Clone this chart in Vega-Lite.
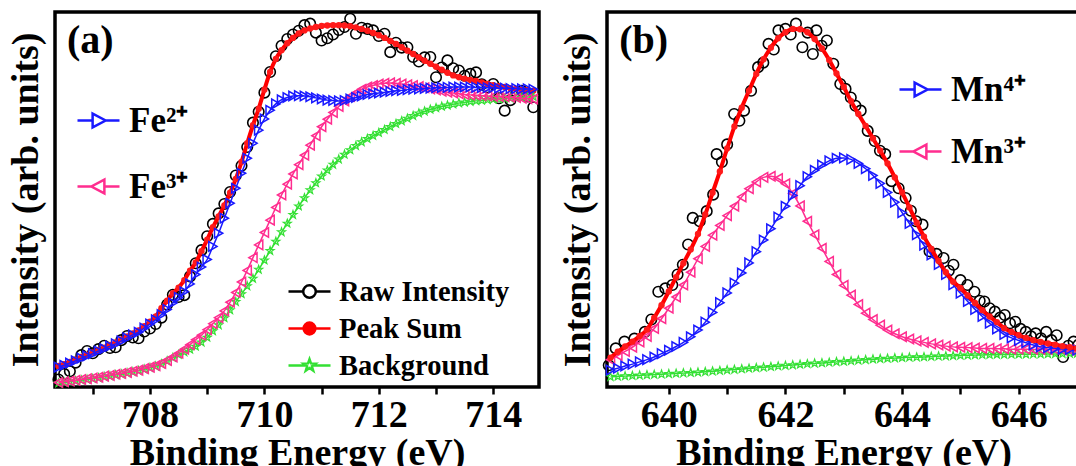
{
"$schema":"https://vega.github.io/schema/vega-lite/v6.json",
"padding":{"left":5,"top":8,"right":0,"bottom":0},
"spacing":13,
"resolve":{"scale":{"shape":"independent","stroke":"independent"},"legend":{"shape":"independent","stroke":"independent"}},
"config":{
 "view":{"stroke":"black","strokeWidth":3.5},
 "font":"Liberation Serif",
 "axis":{"domain":false,"grid":false,"tickColor":"black","tickWidth":2.5,"tickSize":7,"labelFont":"Liberation Serif","labelFontWeight":"bold","labelFontSize":38,"labelColor":"black","labelPadding":2,"titleFont":"Liberation Serif","titleFontWeight":"bold","titleFontSize":38,"titleColor":"black","titlePadding":0},
 "axisY":{"ticks":false,"labels":false,"titleFontSize":38,"titlePadding":10}
},
"datasets":{
"a_raw":[{"E":706.4,"I":2.0},{"E":706.5,"I":3.5},{"E":706.6,"I":4.2},{"E":706.7,"I":6.5},{"E":706.8,"I":8.5},{"E":706.9,"I":9.6},{"E":707.0,"I":9.0},{"E":707.1,"I":10.1},{"E":707.2,"I":11.0},{"E":707.3,"I":10.4},{"E":707.4,"I":10.6},{"E":707.5,"I":12.5},{"E":707.6,"I":13.6},{"E":707.7,"I":13.2},{"E":707.8,"I":13.0},{"E":707.9,"I":14.8},{"E":708.0,"I":15.6},{"E":708.1,"I":16.8},{"E":708.2,"I":18.5},{"E":708.3,"I":22.0},{"E":708.4,"I":24.6},{"E":708.5,"I":24.0},{"E":708.6,"I":24.5},{"E":708.7,"I":29.5},{"E":708.8,"I":33.0},{"E":708.9,"I":36.5},{"E":709.0,"I":40.2},{"E":709.1,"I":43.5},{"E":709.2,"I":46.3},{"E":709.3,"I":48.8},{"E":709.4,"I":52.0},{"E":709.5,"I":56.4},{"E":709.6,"I":59.0},{"E":709.7,"I":64.0},{"E":709.8,"I":70.5},{"E":709.9,"I":73.4},{"E":710.0,"I":78.5},{"E":710.1,"I":84.0},{"E":710.2,"I":88.2},{"E":710.3,"I":91.0},{"E":710.4,"I":92.8},{"E":710.5,"I":94.0},{"E":710.6,"I":95.0},{"E":710.7,"I":96.5},{"E":710.8,"I":96.9},{"E":710.9,"I":94.5},{"E":711.0,"I":92.4},{"E":711.1,"I":93.0},{"E":711.2,"I":94.0},{"E":711.3,"I":95.2},{"E":711.4,"I":96.0},{"E":711.5,"I":98.2},{"E":711.6,"I":94.2},{"E":711.7,"I":95.8},{"E":711.8,"I":95.5},{"E":711.9,"I":95.1},{"E":712.0,"I":93.6},{"E":712.1,"I":94.2},{"E":712.2,"I":89.3},{"E":712.3,"I":91.8},{"E":712.4,"I":90.5},{"E":712.5,"I":90.6},{"E":712.6,"I":88.0},{"E":712.7,"I":86.8},{"E":712.8,"I":87.9},{"E":712.9,"I":88.0},{"E":713.0,"I":82.6},{"E":713.1,"I":85.2},{"E":713.2,"I":87.1},{"E":713.3,"I":85.0},{"E":713.4,"I":84.4},{"E":713.5,"I":83.0},{"E":713.6,"I":83.5},{"E":713.7,"I":83.9},{"E":713.8,"I":80.7},{"E":713.9,"I":79.9},{"E":714.0,"I":80.8},{"E":714.1,"I":77.0},{"E":714.2,"I":73.7},{"E":714.3,"I":76.5},{"E":714.4,"I":78.1},{"E":714.5,"I":79.0},{"E":714.6,"I":77.5},{"E":714.7,"I":74.6}],
"a_sum":[{"E":706.4,"I":5.6},{"E":706.5,"I":6.1},{"E":706.6,"I":6.7},{"E":706.7,"I":7.3},{"E":706.8,"I":8.0},{"E":706.9,"I":8.6},{"E":707.0,"I":9.2},{"E":707.1,"I":9.9},{"E":707.2,"I":10.5},{"E":707.3,"I":11.2},{"E":707.4,"I":11.9},{"E":707.5,"I":12.7},{"E":707.6,"I":13.5},{"E":707.7,"I":14.3},{"E":707.8,"I":15.1},{"E":707.9,"I":16.2},{"E":708.0,"I":17.4},{"E":708.1,"I":18.8},{"E":708.2,"I":21.0},{"E":708.3,"I":23.0},{"E":708.4,"I":25.0},{"E":708.5,"I":26.5},{"E":708.6,"I":28.5},{"E":708.7,"I":31.0},{"E":708.8,"I":33.2},{"E":708.9,"I":36.2},{"E":709.0,"I":39.3},{"E":709.1,"I":42.6},{"E":709.2,"I":45.5},{"E":709.3,"I":48.4},{"E":709.4,"I":51.8},{"E":709.5,"I":55.5},{"E":709.6,"I":60.0},{"E":709.7,"I":65.0},{"E":709.8,"I":69.8},{"E":709.9,"I":74.2},{"E":710.0,"I":79.3},{"E":710.1,"I":84.0},{"E":710.2,"I":87.5},{"E":710.3,"I":89.8},{"E":710.4,"I":91.7},{"E":710.5,"I":93.1},{"E":710.6,"I":94.3},{"E":710.7,"I":95.1},{"E":710.8,"I":95.6},{"E":710.9,"I":96.0},{"E":711.0,"I":96.3},{"E":711.1,"I":96.4},{"E":711.2,"I":96.5},{"E":711.3,"I":96.5},{"E":711.4,"I":96.4},{"E":711.5,"I":96.2},{"E":711.6,"I":95.9},{"E":711.7,"I":95.5},{"E":711.8,"I":95.0},{"E":711.9,"I":94.4},{"E":712.0,"I":93.8},{"E":712.1,"I":93.1},{"E":712.2,"I":92.3},{"E":712.3,"I":91.5},{"E":712.4,"I":90.6},{"E":712.5,"I":89.7},{"E":712.6,"I":88.8},{"E":712.7,"I":87.9},{"E":712.8,"I":87.0},{"E":712.9,"I":86.2},{"E":713.0,"I":85.4},{"E":713.1,"I":84.6},{"E":713.2,"I":83.8},{"E":713.3,"I":83.1},{"E":713.4,"I":82.6},{"E":713.5,"I":82.2},{"E":713.6,"I":81.9},{"E":713.7,"I":81.6},{"E":713.8,"I":81.2},{"E":713.9,"I":80.8},{"E":714.0,"I":80.5},{"E":714.1,"I":80.2},{"E":714.2,"I":80.0},{"E":714.3,"I":79.7},{"E":714.4,"I":79.5},{"E":714.5,"I":79.3},{"E":714.6,"I":79.2},{"E":714.7,"I":79.0}],
"a_bg":[{"E":706.4,"I":1.0},{"E":706.5,"I":1.2},{"E":706.6,"I":1.4},{"E":706.7,"I":1.6},{"E":706.8,"I":1.8},{"E":706.9,"I":2.0},{"E":707.0,"I":2.2},{"E":707.1,"I":2.4},{"E":707.2,"I":2.7},{"E":707.3,"I":2.9},{"E":707.4,"I":3.2},{"E":707.5,"I":3.4},{"E":707.6,"I":3.7},{"E":707.7,"I":4.0},{"E":707.8,"I":4.3},{"E":707.9,"I":4.7},{"E":708.0,"I":5.1},{"E":708.1,"I":5.5},{"E":708.2,"I":6.1},{"E":708.3,"I":6.9},{"E":708.4,"I":7.8},{"E":708.5,"I":8.6},{"E":708.6,"I":9.3},{"E":708.7,"I":10.0},{"E":708.8,"I":10.8},{"E":708.9,"I":11.9},{"E":709.0,"I":13.2},{"E":709.1,"I":14.9},{"E":709.2,"I":16.5},{"E":709.3,"I":18.4},{"E":709.4,"I":20.5},{"E":709.5,"I":22.7},{"E":709.6,"I":24.8},{"E":709.7,"I":26.9},{"E":709.8,"I":28.9},{"E":709.9,"I":31.3},{"E":710.0,"I":33.8},{"E":710.1,"I":36.3},{"E":710.2,"I":38.8},{"E":710.3,"I":41.3},{"E":710.4,"I":43.6},{"E":710.5,"I":45.9},{"E":710.6,"I":48.2},{"E":710.7,"I":50.4},{"E":710.8,"I":52.5},{"E":710.9,"I":54.4},{"E":711.0,"I":56.2},{"E":711.1,"I":57.8},{"E":711.2,"I":59.3},{"E":711.3,"I":60.7},{"E":711.4,"I":62.0},{"E":711.5,"I":63.2},{"E":711.6,"I":64.3},{"E":711.7,"I":65.3},{"E":711.8,"I":66.2},{"E":711.9,"I":67.0},{"E":712.0,"I":67.8},{"E":712.1,"I":68.6},{"E":712.2,"I":69.4},{"E":712.3,"I":70.2},{"E":712.4,"I":70.9},{"E":712.5,"I":71.6},{"E":712.6,"I":72.3},{"E":712.7,"I":73.0},{"E":712.8,"I":73.5},{"E":712.9,"I":74.0},{"E":713.0,"I":74.4},{"E":713.1,"I":74.8},{"E":713.2,"I":75.1},{"E":713.3,"I":75.4},{"E":713.4,"I":75.7},{"E":713.5,"I":75.9},{"E":713.6,"I":76.1},{"E":713.7,"I":76.3},{"E":713.8,"I":76.4},{"E":713.9,"I":76.55},{"E":714.0,"I":76.7},{"E":714.1,"I":76.8},{"E":714.2,"I":76.9},{"E":714.3,"I":77.0},{"E":714.4,"I":77.1},{"E":714.5,"I":77.2},{"E":714.6,"I":77.3},{"E":714.7,"I":77.4}],
"a_fe3":[{"E":706.4,"I":1.2},{"E":706.5,"I":1.4},{"E":706.6,"I":1.6},{"E":706.7,"I":1.8},{"E":706.8,"I":2.0},{"E":706.9,"I":2.2},{"E":707.0,"I":2.4},{"E":707.1,"I":2.6},{"E":707.2,"I":2.9},{"E":707.3,"I":3.1},{"E":707.4,"I":3.4},{"E":707.5,"I":3.6},{"E":707.6,"I":3.9},{"E":707.7,"I":4.2},{"E":707.8,"I":4.5},{"E":707.9,"I":4.9},{"E":708.0,"I":5.3},{"E":708.1,"I":5.7},{"E":708.2,"I":6.3},{"E":708.3,"I":7.1},{"E":708.4,"I":8.0},{"E":708.5,"I":9.0},{"E":708.6,"I":10.1},{"E":708.7,"I":11.3},{"E":708.8,"I":12.6},{"E":708.9,"I":13.8},{"E":709.0,"I":15.3},{"E":709.1,"I":16.9},{"E":709.2,"I":18.5},{"E":709.3,"I":20.3},{"E":709.4,"I":22.6},{"E":709.5,"I":25.2},{"E":709.6,"I":28.0},{"E":709.7,"I":31.1},{"E":709.8,"I":34.5},{"E":709.9,"I":37.9},{"E":710.0,"I":41.2},{"E":710.1,"I":44.5},{"E":710.2,"I":47.9},{"E":710.3,"I":51.2},{"E":710.4,"I":54.1},{"E":710.5,"I":56.8},{"E":710.6,"I":59.3},{"E":710.7,"I":61.8},{"E":710.8,"I":64.5},{"E":710.9,"I":67.0},{"E":711.0,"I":69.4},{"E":711.1,"I":71.4},{"E":711.2,"I":73.2},{"E":711.3,"I":74.8},{"E":711.4,"I":76.3},{"E":711.5,"I":77.5},{"E":711.6,"I":78.4},{"E":711.7,"I":79.4},{"E":711.8,"I":80.0},{"E":711.9,"I":80.4},{"E":712.0,"I":80.8},{"E":712.1,"I":81.0},{"E":712.2,"I":81.1},{"E":712.3,"I":81.0},{"E":712.4,"I":80.8},{"E":712.5,"I":80.6},{"E":712.6,"I":80.4},{"E":712.7,"I":80.1},{"E":712.8,"I":79.8},{"E":712.9,"I":79.5},{"E":713.0,"I":79.2},{"E":713.1,"I":78.9},{"E":713.2,"I":78.6},{"E":713.3,"I":78.4},{"E":713.4,"I":78.2},{"E":713.5,"I":78.0},{"E":713.6,"I":77.9},{"E":713.7,"I":77.8},{"E":713.8,"I":77.7},{"E":713.9,"I":77.6},{"E":714.0,"I":77.5},{"E":714.1,"I":77.45},{"E":714.2,"I":77.4},{"E":714.3,"I":77.3},{"E":714.4,"I":77.2},{"E":714.5,"I":77.0},{"E":714.6,"I":76.9},{"E":714.7,"I":76.8}],
"a_fe2":[{"E":706.4,"I":5.3},{"E":706.5,"I":5.8},{"E":706.6,"I":6.4},{"E":706.7,"I":7.0},{"E":706.8,"I":7.7},{"E":706.9,"I":8.3},{"E":707.0,"I":8.9},{"E":707.1,"I":9.6},{"E":707.2,"I":10.2},{"E":707.3,"I":10.9},{"E":707.4,"I":11.5},{"E":707.5,"I":12.3},{"E":707.6,"I":13.1},{"E":707.7,"I":13.9},{"E":707.8,"I":14.6},{"E":707.9,"I":15.7},{"E":708.0,"I":16.8},{"E":708.1,"I":17.9},{"E":708.2,"I":19.3},{"E":708.3,"I":20.7},{"E":708.4,"I":22.4},{"E":708.5,"I":23.9},{"E":708.6,"I":25.4},{"E":708.7,"I":27.5},{"E":708.8,"I":30.0},{"E":708.9,"I":32.0},{"E":709.0,"I":34.0},{"E":709.1,"I":37.5},{"E":709.2,"I":41.0},{"E":709.3,"I":45.0},{"E":709.4,"I":49.0},{"E":709.5,"I":53.0},{"E":709.6,"I":57.0},{"E":709.7,"I":61.0},{"E":709.8,"I":65.0},{"E":709.9,"I":68.5},{"E":710.0,"I":71.5},{"E":710.1,"I":73.8},{"E":710.2,"I":75.5},{"E":710.3,"I":76.6},{"E":710.4,"I":77.2},{"E":710.5,"I":77.6},{"E":710.6,"I":77.7},{"E":710.7,"I":77.6},{"E":710.8,"I":77.4},{"E":710.9,"I":77.1},{"E":711.0,"I":76.8},{"E":711.1,"I":76.5},{"E":711.2,"I":76.4},{"E":711.3,"I":76.3},{"E":711.4,"I":76.4},{"E":711.5,"I":76.8},{"E":711.6,"I":77.2},{"E":711.7,"I":77.6},{"E":711.8,"I":78.0},{"E":711.9,"I":78.2},{"E":712.0,"I":78.4},{"E":712.1,"I":78.6},{"E":712.2,"I":78.8},{"E":712.3,"I":79.0},{"E":712.4,"I":79.1},{"E":712.5,"I":79.3},{"E":712.6,"I":79.4},{"E":712.7,"I":79.5},{"E":712.8,"I":79.6},{"E":712.9,"I":79.7},{"E":713.0,"I":79.8},{"E":713.1,"I":79.9},{"E":713.2,"I":79.9},{"E":713.3,"I":80.0},{"E":713.4,"I":80.0},{"E":713.5,"I":80.0},{"E":713.6,"I":80.0},{"E":713.7,"I":79.9},{"E":713.8,"I":79.9},{"E":713.9,"I":79.8},{"E":714.0,"I":79.8},{"E":714.1,"I":79.7},{"E":714.2,"I":79.7},{"E":714.3,"I":79.6},{"E":714.4,"I":79.6},{"E":714.5,"I":79.5},{"E":714.6,"I":79.5},{"E":714.7,"I":79.4}],
"b_raw":[{"E":638.97,"I":5.8},{"E":639.09,"I":10.3},{"E":639.24,"I":12.1},{"E":639.41,"I":12.9},{"E":639.59,"I":14.7},{"E":639.7,"I":18.0},{"E":639.82,"I":25.4},{"E":639.94,"I":26.3},{"E":640.06,"I":27.2},{"E":640.15,"I":30.0},{"E":640.24,"I":32.6},{"E":640.33,"I":38.0},{"E":640.41,"I":45.1},{"E":640.53,"I":44.2},{"E":640.65,"I":46.9},{"E":640.76,"I":51.3},{"E":640.82,"I":62.1},{"E":640.91,"I":60.0},{"E":641.0,"I":64.7},{"E":641.12,"I":72.8},{"E":641.21,"I":71.0},{"E":641.29,"I":73.7},{"E":641.41,"I":79.0},{"E":641.53,"I":85.3},{"E":641.62,"I":86.5},{"E":641.71,"I":91.5},{"E":641.8,"I":90.0},{"E":641.88,"I":95.1},{"E":642.0,"I":95.5},{"E":642.09,"I":94.0},{"E":642.18,"I":96.9},{"E":642.29,"I":90.6},{"E":642.38,"I":94.5},{"E":642.47,"I":88.8},{"E":642.53,"I":95.1},{"E":642.62,"I":91.0},{"E":642.71,"I":92.4},{"E":642.82,"I":86.2},{"E":642.94,"I":80.8},{"E":643.03,"I":79.5},{"E":643.12,"I":77.2},{"E":643.2,"I":75.0},{"E":643.29,"I":73.7},{"E":643.41,"I":68.3},{"E":643.53,"I":65.6},{"E":643.62,"I":63.0},{"E":643.71,"I":62.1},{"E":643.82,"I":54.9},{"E":643.94,"I":53.0},{"E":644.06,"I":50.4},{"E":644.15,"I":47.0},{"E":644.24,"I":44.2},{"E":644.35,"I":43.3},{"E":644.47,"I":36.2},{"E":644.59,"I":35.5},{"E":644.71,"I":34.4},{"E":644.8,"I":31.0},{"E":644.88,"I":32.6},{"E":645.0,"I":28.5},{"E":645.12,"I":27.2},{"E":645.24,"I":25.4},{"E":645.33,"I":23.0},{"E":645.41,"I":22.8},{"E":645.5,"I":21.0},{"E":645.59,"I":20.1},{"E":645.68,"I":18.5},{"E":645.76,"I":19.2},{"E":645.85,"I":17.0},{"E":645.94,"I":17.4},{"E":646.03,"I":15.5},{"E":646.12,"I":14.7},{"E":646.21,"I":13.5},{"E":646.29,"I":14.3},{"E":646.38,"I":13.0},{"E":646.47,"I":14.7},{"E":646.56,"I":12.5},{"E":646.65,"I":13.8},{"E":646.76,"I":8.0},{"E":646.85,"I":11.0},{"E":646.94,"I":12.1},{"E":647.02,"I":11.2}],
"b_sum":[{"E":639.0,"I":7.8},{"E":639.125,"I":9.4},{"E":639.25,"I":10.8},{"E":639.375,"I":12.1},{"E":639.5,"I":13.6},{"E":639.625,"I":15.3},{"E":639.75,"I":18.5},{"E":639.875,"I":21.8},{"E":640.0,"I":25.5},{"E":640.125,"I":29.3},{"E":640.25,"I":33.0},{"E":640.375,"I":36.7},{"E":640.5,"I":40.8},{"E":640.625,"I":46.0},{"E":640.75,"I":51.8},{"E":640.875,"I":57.5},{"E":641.0,"I":63.6},{"E":641.125,"I":69.5},{"E":641.25,"I":74.5},{"E":641.375,"I":79.0},{"E":641.5,"I":83.5},{"E":641.625,"I":87.4},{"E":641.75,"I":90.5},{"E":641.875,"I":93.0},{"E":642.0,"I":94.6},{"E":642.125,"I":95.5},{"E":642.25,"I":95.4},{"E":642.375,"I":94.6},{"E":642.5,"I":92.8},{"E":642.625,"I":90.3},{"E":642.75,"I":87.2},{"E":642.875,"I":83.6},{"E":643.0,"I":80.0},{"E":643.125,"I":76.2},{"E":643.25,"I":72.8},{"E":643.375,"I":69.6},{"E":643.5,"I":66.3},{"E":643.625,"I":63.0},{"E":643.75,"I":59.6},{"E":643.875,"I":55.9},{"E":644.0,"I":51.9},{"E":644.125,"I":47.9},{"E":644.25,"I":43.8},{"E":644.375,"I":40.1},{"E":644.5,"I":36.8},{"E":644.625,"I":33.6},{"E":644.75,"I":30.6},{"E":644.875,"I":28.1},{"E":645.0,"I":26.4},{"E":645.125,"I":24.4},{"E":645.25,"I":22.4},{"E":645.375,"I":20.5},{"E":645.5,"I":18.8},{"E":645.625,"I":17.3},{"E":645.75,"I":15.7},{"E":645.875,"I":14.7},{"E":646.0,"I":13.8},{"E":646.125,"I":13.1},{"E":646.25,"I":12.5},{"E":646.375,"I":12.0},{"E":646.5,"I":11.6},{"E":646.625,"I":11.3},{"E":646.75,"I":10.9},{"E":646.875,"I":10.6},{"E":647.0,"I":10.3}],
"b_bg":[{"E":639.0,"I":2.7},{"E":639.125,"I":2.8},{"E":639.25,"I":2.9},{"E":639.375,"I":3.0},{"E":639.5,"I":3.1},{"E":639.625,"I":3.2},{"E":639.75,"I":3.3},{"E":639.875,"I":3.4},{"E":640.0,"I":3.5},{"E":640.125,"I":3.6},{"E":640.25,"I":3.7},{"E":640.375,"I":3.8},{"E":640.5,"I":3.9},{"E":640.625,"I":4.05},{"E":640.75,"I":4.2},{"E":640.875,"I":4.35},{"E":641.0,"I":4.5},{"E":641.125,"I":4.65},{"E":641.25,"I":4.8},{"E":641.375,"I":4.95},{"E":641.5,"I":5.1},{"E":641.625,"I":5.25},{"E":641.75,"I":5.4},{"E":641.875,"I":5.55},{"E":642.0,"I":5.7},{"E":642.125,"I":5.85},{"E":642.25,"I":6.0},{"E":642.375,"I":6.15},{"E":642.5,"I":6.3},{"E":642.625,"I":6.4},{"E":642.75,"I":6.55},{"E":642.875,"I":6.7},{"E":643.0,"I":6.8},{"E":643.125,"I":6.95},{"E":643.25,"I":7.1},{"E":643.375,"I":7.25},{"E":643.5,"I":7.4},{"E":643.625,"I":7.5},{"E":643.75,"I":7.6},{"E":643.875,"I":7.7},{"E":644.0,"I":7.8},{"E":644.125,"I":7.9},{"E":644.25,"I":7.95},{"E":644.375,"I":8.0},{"E":644.5,"I":8.1},{"E":644.625,"I":8.2},{"E":644.75,"I":8.25},{"E":644.875,"I":8.3},{"E":645.0,"I":8.4},{"E":645.125,"I":8.45},{"E":645.25,"I":8.5},{"E":645.375,"I":8.55},{"E":645.5,"I":8.6},{"E":645.625,"I":8.62},{"E":645.75,"I":8.65},{"E":645.875,"I":8.68},{"E":646.0,"I":8.7},{"E":646.125,"I":8.72},{"E":646.25,"I":8.75},{"E":646.375,"I":8.78},{"E":646.5,"I":8.8},{"E":646.625,"I":8.83},{"E":646.75,"I":8.85},{"E":646.875,"I":8.88},{"E":647.0,"I":8.9}],
"b_mn3":[{"E":639.0,"I":7.3},{"E":639.125,"I":8.4},{"E":639.25,"I":9.5},{"E":639.375,"I":10.6},{"E":639.5,"I":12.0},{"E":639.625,"I":13.5},{"E":639.75,"I":15.6},{"E":639.875,"I":18.2},{"E":640.0,"I":21.0},{"E":640.125,"I":24.0},{"E":640.25,"I":27.2},{"E":640.375,"I":30.6},{"E":640.5,"I":34.2},{"E":640.625,"I":37.5},{"E":640.75,"I":40.5},{"E":640.875,"I":43.1},{"E":641.0,"I":45.7},{"E":641.125,"I":48.2},{"E":641.25,"I":50.7},{"E":641.375,"I":52.9},{"E":641.5,"I":54.7},{"E":641.625,"I":55.9},{"E":641.75,"I":56.2},{"E":641.875,"I":55.6},{"E":642.0,"I":54.2},{"E":642.125,"I":51.6},{"E":642.25,"I":48.3},{"E":642.375,"I":44.2},{"E":642.5,"I":40.6},{"E":642.625,"I":37.0},{"E":642.75,"I":33.5},{"E":642.875,"I":30.0},{"E":643.0,"I":27.1},{"E":643.125,"I":24.5},{"E":643.25,"I":22.0},{"E":643.375,"I":19.7},{"E":643.5,"I":18.0},{"E":643.625,"I":16.5},{"E":643.75,"I":15.2},{"E":643.875,"I":14.2},{"E":644.0,"I":13.4},{"E":644.125,"I":12.8},{"E":644.25,"I":12.3},{"E":644.375,"I":11.9},{"E":644.5,"I":11.5},{"E":644.625,"I":11.2},{"E":644.75,"I":10.9},{"E":644.875,"I":10.7},{"E":645.0,"I":10.6},{"E":645.125,"I":10.5},{"E":645.25,"I":10.4},{"E":645.375,"I":10.3},{"E":645.5,"I":10.3},{"E":645.625,"I":10.2},{"E":645.75,"I":10.2},{"E":645.875,"I":10.1},{"E":646.0,"I":10.1},{"E":646.125,"I":10.1},{"E":646.25,"I":10.0},{"E":646.375,"I":10.0},{"E":646.5,"I":10.0},{"E":646.625,"I":10.0},{"E":646.75,"I":9.9},{"E":646.875,"I":9.9},{"E":647.0,"I":9.8}],
"b_mn4":[{"E":639.0,"I":4.5},{"E":639.125,"I":5.0},{"E":639.25,"I":5.6},{"E":639.375,"I":6.1},{"E":639.5,"I":6.7},{"E":639.625,"I":7.3},{"E":639.75,"I":8.0},{"E":639.875,"I":8.9},{"E":640.0,"I":9.8},{"E":640.125,"I":10.8},{"E":640.25,"I":11.9},{"E":640.375,"I":13.4},{"E":640.5,"I":15.2},{"E":640.625,"I":17.3},{"E":640.75,"I":19.9},{"E":640.875,"I":22.5},{"E":641.0,"I":25.1},{"E":641.125,"I":27.7},{"E":641.25,"I":30.4},{"E":641.375,"I":33.1},{"E":641.5,"I":36.1},{"E":641.625,"I":39.2},{"E":641.75,"I":42.2},{"E":641.875,"I":45.3},{"E":642.0,"I":48.2},{"E":642.125,"I":51.1},{"E":642.25,"I":53.7},{"E":642.375,"I":56.1},{"E":642.5,"I":57.8},{"E":642.625,"I":59.2},{"E":642.75,"I":60.3},{"E":642.875,"I":61.0},{"E":643.0,"I":61.1},{"E":643.125,"I":60.7},{"E":643.25,"I":59.6},{"E":643.375,"I":58.2},{"E":643.5,"I":56.4},{"E":643.625,"I":54.3},{"E":643.75,"I":51.9},{"E":643.875,"I":49.3},{"E":644.0,"I":46.5},{"E":644.125,"I":43.6},{"E":644.25,"I":40.6},{"E":644.375,"I":37.8},{"E":644.5,"I":35.2},{"E":644.625,"I":32.7},{"E":644.75,"I":30.0},{"E":644.875,"I":27.3},{"E":645.0,"I":25.0},{"E":645.125,"I":22.8},{"E":645.25,"I":20.7},{"E":645.375,"I":18.8},{"E":645.5,"I":17.0},{"E":645.625,"I":15.5},{"E":645.75,"I":14.0},{"E":645.875,"I":13.1},{"E":646.0,"I":12.4},{"E":646.125,"I":11.8},{"E":646.25,"I":11.2},{"E":646.375,"I":10.7},{"E":646.5,"I":10.5},{"E":646.625,"I":10.3},{"E":646.75,"I":10.1},{"E":646.875,"I":10.0},{"E":647.0,"I":9.8}],
"lab_a":[{"t":"(a)"}],
"lab_b":[{"t":"(b)"}],
"leg_fe":[{"s":"Fe²⁺"},{"s":"Fe³⁺"}],
"leg_mn":[{"s":"Mn⁴⁺"},{"s":"Mn³⁺"}],
"leg_fit":[{"s":"Raw Intensity"},{"s":"Peak Sum"},{"s":"Background"}]
},
"hconcat":[
{
 "width":484,"height":375,
 "layer":[
  {
   "encoding":{
    "x":{"field":"E","type":"quantitative","scale":{"domain":[706.34,714.8],"nice":false,"zero":false},"axis":{"values":[707,708,709,710,711,712,713,714],"labelExpr":"datum.value % 2 == 0 ? datum.label : ''","title":"Binding Energy (eV)"}},
    "y":{"field":"I","type":"quantitative","scale":{"domain":[0,100],"nice":false},"axis":{"title":"Intensity (arb. units)"}}
   },
   "layer":[
    {"data":{"name":"a_raw"},"mark":{"type":"point","shape":"circle","filled":false,"stroke":"black","strokeWidth":1.6,"size":110,"opacity":1}},
    {"data":{"name":"a_sum"},"mark":{"type":"line","color":"#ff0000","strokeWidth":4,"interpolate":"monotone"}},
    {"data":{"name":"a_sum"},"mark":{"type":"point","shape":"circle","filled":true,"color":"#ff1a1a","size":40,"opacity":1}},
    {"data":{"name":"a_bg"},"mark":{"type":"line","color":"#33e033","strokeWidth":1.5,"interpolate":"monotone"}},
    {"data":{"name":"a_bg"},"mark":{"type":"point","shape":"M0,-1L0.235,-0.324L0.951,-0.309L0.38,0.124L0.588,0.809L0,0.4L-0.588,0.809L-0.38,0.124L-0.951,-0.309L-0.235,-0.324Z","filled":false,"stroke":"#33e033","strokeWidth":1.2,"size":70,"opacity":1}},
    {"data":{"name":"a_fe3"},"mark":{"type":"line","color":"#ff2d8f","strokeWidth":1.5,"interpolate":"monotone"}},
    {"data":{"name":"a_fe3"},"mark":{"type":"point","shape":"triangle-left","filled":false,"stroke":"#ff2d8f","strokeWidth":1.5,"size":90,"opacity":1}},
    {"data":{"name":"a_fe2"},"mark":{"type":"line","color":"#1a1aff","strokeWidth":1.5,"interpolate":"monotone"}},
    {"data":{"name":"a_fe2"},"mark":{"type":"point","shape":"triangle-right","filled":false,"stroke":"#1a1aff","strokeWidth":1.5,"size":90,"opacity":1}}
   ]
  },
  {"data":{"name":"lab_a"},"mark":{"type":"text","align":"left","baseline":"alphabetic","font":"Liberation Serif","fontWeight":"bold","fontSize":40,"color":"black"},"encoding":{
   "x":{"datum":706.55,"type":"quantitative","scale":{"domain":[706.34,714.8],"nice":false,"zero":false},"axis":{"values":[707,708,709,710,711,712,713,714],"labelExpr":"datum.value % 2 == 0 ? datum.label : ''","title":"Binding Energy (eV)"}},
   "y":{"datum":89,"type":"quantitative","scale":{"domain":[0,100],"nice":false},"axis":{"title":"Intensity (arb. units)"}},
   "text":{"field":"t"}}},
  {"data":{"name":"leg_fe"},"mark":{"type":"point","opacity":0},"encoding":{
   "x":{"datum":710,"type":"quantitative","scale":{"domain":[706.34,714.8],"nice":false,"zero":false},"axis":{"values":[707,708,709,710,711,712,713,714],"labelExpr":"datum.value % 2 == 0 ? datum.label : ''","title":"Binding Energy (eV)"}},
   "y":{"datum":50,"type":"quantitative","scale":{"domain":[0,100],"nice":false},"axis":{"title":"Intensity (arb. units)"}},
   "shape":{"field":"s","type":"nominal","scale":{"domain":["Fe²⁺","Fe³⁺"],"range":["M-1,0H-0.28M0.34,0H1M-0.28,-0.33L0.34,0L-0.28,0.33Z","M-1,0H-0.34M0.28,0H1M0.28,-0.33L-0.34,0L0.28,0.33Z"]},"legend":{"orient":"none","legendX":21,"legendY":86,"title":null,"labelFont":"Liberation Serif","labelFontWeight":"bold","labelFontSize":35,"labelColor":"black","symbolSize":1764,"symbolStrokeWidth":2.5,"symbolOpacity":1,"rowPadding":25,"labelOffset":8,"labelLimit":0,"padding":0}},
   "stroke":{"field":"s","type":"nominal","scale":{"domain":["Fe²⁺","Fe³⁺"],"range":["#1a1aff","#ff2d8f"]},"legend":{"orient":"none","legendX":21,"legendY":86,"title":null,"labelFont":"Liberation Serif","labelFontWeight":"bold","labelFontSize":35,"labelColor":"black","symbolSize":1764,"symbolStrokeWidth":2.5,"symbolOpacity":1,"rowPadding":25,"labelOffset":8,"labelLimit":0,"padding":0}}}},
  {"data":{"name":"leg_fit"},"mark":{"type":"point","opacity":0},"encoding":{
   "x":{"datum":710,"type":"quantitative","scale":{"domain":[706.34,714.8],"nice":false,"zero":false},"axis":{"values":[707,708,709,710,711,712,713,714],"labelExpr":"datum.value % 2 == 0 ? datum.label : ''","title":"Binding Energy (eV)"}},
   "y":{"datum":50,"type":"quantitative","scale":{"domain":[0,100],"nice":false},"axis":{"title":"Intensity (arb. units)"}},
   "shape":{"field":"s","type":"nominal","scale":{"domain":["Raw Intensity","Peak Sum","Background"],"range":["M-1,0H-0.3M0.3,0H1M0.3,0A0.3,0.3,0,1,1,-0.3,0A0.3,0.3,0,1,1,0.3,0Z","M-1,0H1M0.28,0A0.28,0.28,0,1,1,-0.28,0A0.28,0.28,0,1,1,0.28,0ZM0.17,0A0.17,0.17,0,1,1,-0.17,0A0.17,0.17,0,1,1,0.17,0ZM0.07,0A0.07,0.07,0,1,1,-0.07,0A0.07,0.07,0,1,1,0.07,0Z","M-1,0H-0.15M0.15,0H1M0,-0.3L0.07,-0.1L0.285,-0.093L0.114,0.037L0.176,0.243L0,0.12L-0.176,0.243L-0.114,0.037L-0.285,-0.093L-0.07,-0.1Z"]},"legend":{"orient":"none","legendX":232,"legendY":257,"title":null,"labelFont":"Liberation Serif","labelFontWeight":"bold","labelFontSize":28.5,"labelColor":"black","symbolSize":1764,"symbolStrokeWidth":2.5,"symbolOpacity":1,"rowPadding":-6,"labelOffset":7,"labelLimit":0,"padding":0}},
   "stroke":{"field":"s","type":"nominal","scale":{"domain":["Raw Intensity","Peak Sum","Background"],"range":["black","#ff0000","#33e033"]},"legend":{"orient":"none","legendX":232,"legendY":257,"title":null,"labelFont":"Liberation Serif","labelFontWeight":"bold","labelFontSize":28.5,"labelColor":"black","symbolSize":1764,"symbolStrokeWidth":2.5,"symbolOpacity":1,"rowPadding":-6,"labelOffset":7,"labelLimit":0,"padding":0}}}}
 ],
 "resolve":{"scale":{"shape":"independent","stroke":"independent"}}
},
{
 "width":473,"height":375,
 "layer":[
  {
   "encoding":{
    "x":{"field":"E","type":"quantitative","scale":{"domain":[638.94,647.05],"nice":false,"zero":false},"axis":{"values":[640,641,642,643,644,645,646],"labelExpr":"datum.value % 2 == 0 ? datum.label : ''","title":"Binding Energy (eV)"}},
    "y":{"field":"I","type":"quantitative","scale":{"domain":[0,100],"nice":false},"axis":{"title":"Intensity (arb. units)"}}
   },
   "layer":[
    {"data":{"name":"b_raw"},"mark":{"type":"point","shape":"circle","filled":false,"stroke":"black","strokeWidth":1.6,"size":110,"opacity":1}},
    {"data":{"name":"b_bg"},"mark":{"type":"line","color":"#33e033","strokeWidth":1.5,"interpolate":"monotone"}},
    {"data":{"name":"b_bg"},"mark":{"type":"point","shape":"M0,-1L0.235,-0.324L0.951,-0.309L0.38,0.124L0.588,0.809L0,0.4L-0.588,0.809L-0.38,0.124L-0.951,-0.309L-0.235,-0.324Z","filled":false,"stroke":"#33e033","strokeWidth":1.2,"size":70,"opacity":1}},
    {"data":{"name":"b_mn3"},"mark":{"type":"line","color":"#ff2d8f","strokeWidth":1.5,"interpolate":"monotone"}},
    {"data":{"name":"b_mn3"},"mark":{"type":"point","shape":"triangle-left","filled":false,"stroke":"#ff2d8f","strokeWidth":1.5,"size":90,"opacity":1}},
    {"data":{"name":"b_mn4"},"mark":{"type":"line","color":"#1a1aff","strokeWidth":1.5,"interpolate":"monotone"}},
    {"data":{"name":"b_mn4"},"mark":{"type":"point","shape":"triangle-right","filled":false,"stroke":"#1a1aff","strokeWidth":1.5,"size":90,"opacity":1}},
    {"data":{"name":"b_sum"},"mark":{"type":"line","color":"#ff0000","strokeWidth":4,"interpolate":"monotone"}},
    {"data":{"name":"b_sum"},"mark":{"type":"point","shape":"circle","filled":true,"color":"#ff1a1a","size":40,"opacity":1}}
   ]
  },
  {"data":{"name":"lab_b"},"mark":{"type":"text","align":"left","baseline":"alphabetic","font":"Liberation Serif","fontWeight":"bold","fontSize":40,"color":"black"},"encoding":{
   "x":{"datum":639.15,"type":"quantitative","scale":{"domain":[638.94,647.05],"nice":false,"zero":false},"axis":{"values":[640,641,642,643,644,645,646],"labelExpr":"datum.value % 2 == 0 ? datum.label : ''","title":"Binding Energy (eV)"}},
   "y":{"datum":89,"type":"quantitative","scale":{"domain":[0,100],"nice":false},"axis":{"title":"Intensity (arb. units)"}},
   "text":{"field":"t"}}},
  {"data":{"name":"leg_mn"},"mark":{"type":"point","opacity":0},"encoding":{
   "x":{"datum":643,"type":"quantitative","scale":{"domain":[638.94,647.05],"nice":false,"zero":false},"axis":{"values":[640,641,642,643,644,645,646],"labelExpr":"datum.value % 2 == 0 ? datum.label : ''","title":"Binding Energy (eV)"}},
   "y":{"datum":50,"type":"quantitative","scale":{"domain":[0,100],"nice":false},"axis":{"title":"Intensity (arb. units)"}},
   "shape":{"field":"s","type":"nominal","scale":{"domain":["Mn⁴⁺","Mn³⁺"],"range":["M-1,0H-0.28M0.34,0H1M-0.28,-0.33L0.34,0L-0.28,0.33Z","M-1,0H-0.34M0.28,0H1M0.28,-0.33L-0.34,0L0.28,0.33Z"]},"legend":{"orient":"none","legendX":291,"legendY":55,"title":null,"labelFont":"Liberation Serif","labelFontWeight":"bold","labelFontSize":35,"labelColor":"black","symbolSize":1764,"symbolStrokeWidth":2.5,"symbolOpacity":1,"rowPadding":21,"labelOffset":8,"labelLimit":0,"padding":0}},
   "stroke":{"field":"s","type":"nominal","scale":{"domain":["Mn⁴⁺","Mn³⁺"],"range":["#1a1aff","#ff2d8f"]},"legend":{"orient":"none","legendX":291,"legendY":55,"title":null,"labelFont":"Liberation Serif","labelFontWeight":"bold","labelFontSize":35,"labelColor":"black","symbolSize":1764,"symbolStrokeWidth":2.5,"symbolOpacity":1,"rowPadding":21,"labelOffset":8,"labelLimit":0,"padding":0}}}}
 ],
 "resolve":{"scale":{"shape":"independent","stroke":"independent"}}
}
]
}
